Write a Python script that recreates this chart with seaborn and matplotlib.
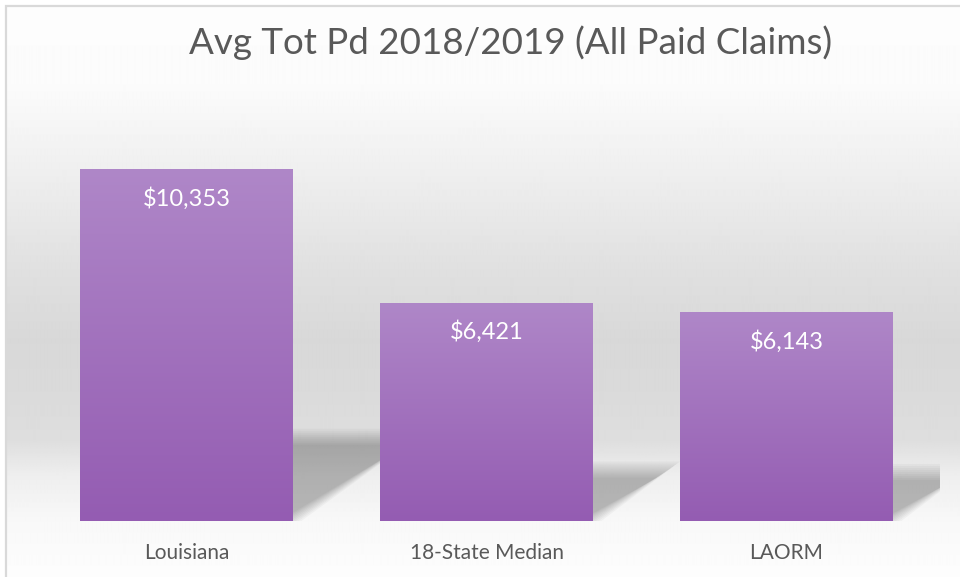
import numpy as np
import matplotlib.pyplot as plt
import seaborn as sns
from matplotlib.colors import LinearSegmentedColormap
from matplotlib.patches import Polygon, Rectangle

# Data
categories = ['Louisiana', '18-State Median', 'LAORM']
avg_paid = [10353, 6421, 6143]
value_labels = ['$10,353', '$6,421', '$6,143']

TITLE = 'Avg Tot Pd 2018/2019 (All Paid Claims)'
TEXT_GREY = '#595959'
BAR_TOP = '#af87c8'
BAR_BOTTOM = '#945cb2'

sns.set_theme(style='white')
plt.rcParams['font.family'] = ['Lato', 'DejaVu Sans']

W, H = 960, 577
fig = plt.figure(figsize=(W / 100, H / 100), dpi=100, facecolor='white')

# ── Background: vertical grey gradient inside a thin frame ──────────────────
bg_ax = fig.add_axes([6 / W, 0, 1 - 6 / W, 1 - 6 / H], zorder=0)
rows = np.arange(6, H)
grey = np.interp(rows, [6, 85, 170, 270, 340, 390, 440, 475, 521, 577],
                 [253, 251, 239, 224, 216, 218, 222, 238, 248, 253]) / 255
bg = np.repeat(grey[:, None], 4, axis=1)
bg_ax.imshow(bg, cmap='gray', vmin=0, vmax=1, aspect='auto',
             extent=[0, 1, 0, 1], interpolation='bilinear')
bg_ax.axis('off')
fig.patches.append(Rectangle((6 / W, -0.02), 1.0, 1 - 6 / H + 0.02,
                             transform=fig.transFigure, fill=False,
                             ec='#d9d9d9', lw=1.6, zorder=5))

# ── Main axes ────────────────────────────────────────────────────────────────
ax = fig.add_axes([36.5 / W, 56 / H, 903 / W, 442 / H], zorder=1)
ax.patch.set_visible(False)
sns.barplot(x=categories, y=avg_paid, ax=ax, width=0.71, color=BAR_BOTTOM,
            saturation=1, linewidth=0, zorder=3)
ax.set_xlim(-0.5, 2.51)
ax.set_ylim(0, 13000)
sns.despine(ax=ax, left=True, bottom=True)
ax.set_yticks([])
ax.set_xlabel('')
ax.set_ylabel('')
ax.tick_params(axis='x', length=0, pad=16, labelsize=15, labelcolor=TEXT_GREY)
ax.grid(False)

p0 = ax.transData.transform((0, 0))
p1 = ax.transData.transform((1, 1))
sx, sy = p1[0] - p0[0], p1[1] - p0[1]   # pixels per data unit

grad_cmap = LinearSegmentedColormap.from_list('bar', [BAR_BOTTOM, BAR_TOP])
grad = np.linspace(0, 1, 256)[:, None]

for patch, lab in zip(ax.patches, value_labels):
    x0, w, h = patch.get_x(), patch.get_width(), patch.get_height()
    x1 = x0 + w
    h_px = h * sy

    # soft perspective shadow behind the bar
    sh = 0.245 * h
    dx = 0.36 * h_px / sx
    layers = 9
    for i in range(layers):
        t = (i - 3) * 2.0  # pixel inset (negative = grow)
        ti_y = t / sy
        ti_x = t / sx
        verts = [(x0, 0), (x1 - ti_x * 1.4, 0),
                 (x1 + dx - ti_x * 1.4, sh - ti_y),
                 (x0 + dx, sh - ti_y)]
        ax.add_patch(Polygon(verts, closed=True, fc='black', ec='none',
                             alpha=0.03, zorder=1))

    # gradient fill clipped to the bar
    im = ax.imshow(grad, cmap=grad_cmap, aspect='auto', origin='lower',
                   extent=(x0, x1, 0, h), zorder=3.5, interpolation='bilinear')
    im.set_clip_path(patch)

    ax.annotate(lab, xy=(x0 + w / 2, h), xytext=(0, -21),
                textcoords='offset points', ha='center', va='center',
                color='white', fontsize=17, zorder=5)

ax.set_xlim(-0.5, 2.51)
ax.set_ylim(0, 13000)

fig.text(511 / W, 1 - 43 / H, TITLE, ha='center', va='center',
         fontsize=26.5, color=TEXT_GREY)

fig.savefig('out.png', dpi=100)
